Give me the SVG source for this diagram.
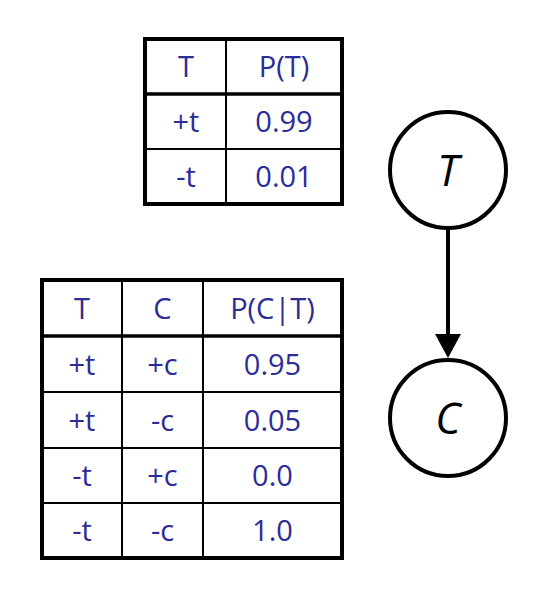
<svg xmlns="http://www.w3.org/2000/svg" width="552" height="594" viewBox="0 0 552 594">
<defs>
<style>
.cell{font-family:"Open Sans","Liberation Sans",sans-serif;font-size:29px;fill:#2c2c96;text-anchor:middle}
.outer{fill:#fff;stroke:#000;stroke-width:4}
.thin{stroke:#000;stroke-width:2}
.thick{stroke:#000;stroke-width:3.5}
.node{fill:#fff;stroke:#000;stroke-width:4}
.lbl{font-family:"Open Sans","Liberation Sans",sans-serif;font-style:italic;font-size:43px;fill:#000;text-anchor:middle}
</style>
<marker id="arr" viewBox="0 0 10 10" refX="4.6" refY="5" markerWidth="24" markerHeight="26" markerUnits="userSpaceOnUse" orient="auto" preserveAspectRatio="none">
<path d="M0,0 L10,5 L0,10 z" fill="#000"/>
</marker>
</defs>
<g id="table-T">
<rect class="outer" x="145" y="39" width="197" height="165"/>
<line class="thick" x1="145" y1="94" x2="342" y2="94"/>
<line class="thin" x1="145" y1="149" x2="342" y2="149"/>
<line class="thin" x1="226" y1="39" x2="226" y2="204"/>
<text class="cell" x="186" y="77">T</text>
<text class="cell" x="284" y="77">P(T)</text>
<text class="cell" x="186" y="132">+t</text>
<text class="cell" x="284" y="132">0.99</text>
<text class="cell" x="186" y="187">-t</text>
<text class="cell" x="284" y="187">0.01</text>
</g>
<g id="table-C">
<rect class="outer" x="42" y="280" width="300" height="278"/>
<line class="thick" x1="42" y1="336" x2="342" y2="336"/>
<line class="thin" x1="42" y1="392" x2="342" y2="392"/>
<line class="thin" x1="42" y1="448" x2="342" y2="448"/>
<line class="thin" x1="42" y1="503" x2="342" y2="503"/>
<line class="thin" x1="122" y1="280" x2="122" y2="558"/>
<line class="thin" x1="203" y1="280" x2="203" y2="558"/>
<text class="cell" x="82" y="319">T</text>
<text class="cell" x="162.5" y="319">C</text>
<text class="cell" x="272.5" y="319">P(C|T)</text>
<text class="cell" x="82" y="375">+t</text>
<text class="cell" x="162.5" y="375">+c</text>
<text class="cell" x="272.5" y="375">0.95</text>
<text class="cell" x="82" y="431">+t</text>
<text class="cell" x="162.5" y="431">-c</text>
<text class="cell" x="272.5" y="431">0.05</text>
<text class="cell" x="82" y="486">-t</text>
<text class="cell" x="162.5" y="486">+c</text>
<text class="cell" x="272.5" y="486">0.0</text>
<text class="cell" x="82" y="541">-t</text>
<text class="cell" x="162.5" y="541">-c</text>
<text class="cell" x="272.5" y="541">1.0</text>
</g>
<g id="connectors">
<line x1="448" y1="228" x2="448" y2="345" stroke="#000" stroke-width="4" marker-end="url(#arr)"/>
</g>
<g id="node-T">
<circle class="node" cx="448" cy="170" r="58"/>
<text class="lbl" x="448" y="186">T</text>
</g>
<g id="node-C">
<circle class="node" cx="448" cy="418" r="58"/>
<text class="lbl" x="448" y="434">C</text>
</g>
</svg>
